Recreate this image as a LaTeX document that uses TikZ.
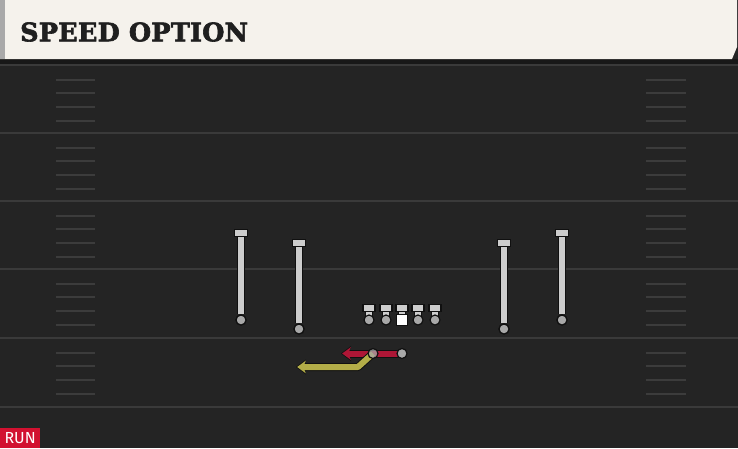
\documentclass[tikz,border=0pt]{standalone}
\usepackage{fontspec}
\newfontfamily\titlefont{DejaVu Serif Bold}[FakeBold=2.5,LetterSpace=1]
\setsansfont{Fira Sans}
\usetikzlibrary{arrows.meta}
\definecolor{cream}{HTML}{F5F2EC}
\definecolor{strip}{HTML}{A9A9A9}
\definecolor{band}{HTML}{181818}
\definecolor{field}{HTML}{242424}
\definecolor{yard}{HTML}{3A3A3A}
\definecolor{hash}{HTML}{3C3C3C}
\definecolor{pgray}{HTML}{CDCDCD}
\definecolor{pdot}{HTML}{A8A8A8}
\definecolor{outl}{HTML}{101010}
\definecolor{runred}{HTML}{AE1636}
\definecolor{optyel}{HTML}{B3AD48}
\definecolor{tagred}{HTML}{D21130}
\tikzset{
  yardline/.style={draw=yard,line width=2pt},
  hashmark/.style={draw=hash,line width=1.8pt},
  stem/.style={draw=outl,line width=7.5pt,postaction={draw=pgray,line width=5.5pt}},
  tbar/.style={rectangle,draw=outl,fill=pgray,line width=1.2pt,minimum width=13.5pt,minimum height=6.5pt,inner sep=0pt},
  pdotn/.style={circle,draw=outl,fill=pdot,line width=1.2pt,minimum size=10pt,inner sep=0pt},
  ballcarrier/.style={circle,draw=outl,fill=pdot,fill opacity=0.75,line width=1.2pt,minimum size=10pt,inner sep=0pt},
  centersq/.style={rectangle,draw=outl,fill=white,line width=1.2pt,minimum size=10.5pt,inner sep=0pt},
  route/.style={draw=outl,line width=8pt,line join=round,-{Stealth[length=10pt,width=15pt,inset=2.5pt]},
     postaction={draw=#1,line width=6pt,-{Stealth[length=8.5pt,width=12.5pt,inset=2.5pt]},shorten >=1.2pt}},
}
\begin{document}
\begin{tikzpicture}[x=1pt,y=-1pt]
\useasboundingbox (0,0) rectangle (738,448);
% field
\fill[field] (0,0) rectangle (738,448);
\fill[band] (0,59) rectangle (738,64);
% header
\fill[cream] (0,0) -- (737,0) -- (737,47) -- (732,59) -- (0,59) -- cycle;
\fill[strip] (0,0) rectangle (4.5,59);
\node[anchor=west,inner sep=0pt,text=black!88] (title) at (20,32)
  {\titlefont\fontsize{25.5}{25.5}\selectfont SPEED OPTION};
% yard lines
\foreach \y in {65,133,201,269,338,407} {
  \draw[yardline] (0,\y) -- (738,\y);
}
\foreach \y in {65,133,201,269,338} {
  \foreach \d in {15,28,42,56} {
    \draw[hashmark] (56,\y+\d) -- (95,\y+\d);
    \draw[hashmark] (646,\y+\d) -- (686,\y+\d);
  }
}
% receivers
\foreach \n/\x/\t/\b in {wra/241/233/320,wrb/299/243/329,wrc/504/243/329,wrd/562/233/320} {
  \node[tbar] (\n t) at (\x,\t) {};
  \node[pdotn] (\n) at (\x,\b) {};
  \draw[stem] (\n) -- (\n t);
  \node[tbar] at (\n t) {};
  \node[pdotn] at (\n) {};
}
% linemen
\foreach \n/\x in {lta/369,lgb/386,cnc/402,rgd/418,rte/435} {
  \node[tbar,minimum width=12pt] (\n t) at (\x,308) {};
  \coordinate (\n) at (\x,320);
  \draw[stem] (\n) -- (\n t);
  \node[tbar,minimum width=12pt] at (\n t) {};
}
\foreach \n in {lta,lgb,rgd,rte} {
  \node[pdotn] at (\n) {};
}
\node[centersq] (ctr) at (cnc) {};
% backs
\coordinate (qbp) at (402,353.5);
\coordinate (rbp) at (373,353.5);
\coordinate (redend) at (341,353.5);
\coordinate (yelbend) at (358,367);
\coordinate (yelend) at (296,367);
\draw[route=runred] (qbp) -- (redend);
\draw[route=optyel] (rbp) -- (yelbend) -- (yelend);
\node[pdotn] (qb) at (qbp) {};
\node[ballcarrier] (rb) at (rbp) {};
% run tag
\node[fill=tagred,text=white,anchor=south west,inner xsep=2pt,inner ysep=1pt,minimum height=20pt,minimum width=40pt,font=\sffamily\fontsize{16}{16}\selectfont] (tag) at (0,448) {RUN};
\end{tikzpicture}
\end{document}
